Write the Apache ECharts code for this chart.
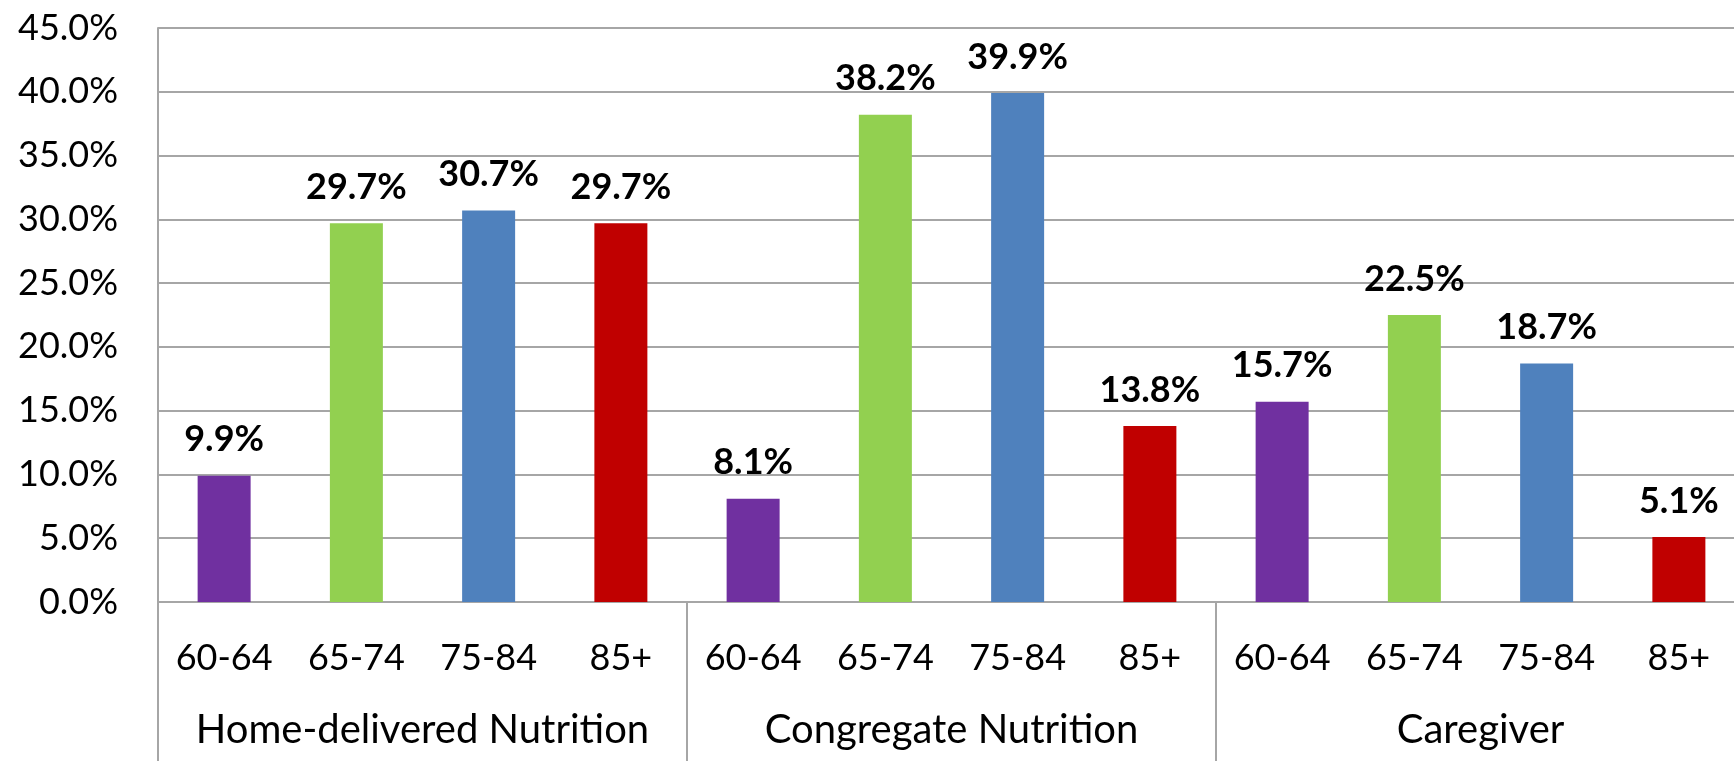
<!DOCTYPE html>
<html>
<head>
<meta charset="utf-8">
<script src="https://cdn.jsdelivr.net/npm/echarts@6/dist/echarts.min.js"></script>
<style>
  html, body { margin: 0; padding: 0; background: #ffffff; overflow: hidden; }
  /* the plot area runs slightly past the right edge of the page */
  #chart { width: 1745px; height: 761px; }
</style>
</head>
<body>
<div id="chart"></div>
<script>
// Age bands shown under every bar, repeated for each program
const ageBands = ['60-64', '65-74', '75-84', '85+'];
// Program groups along the lower axis row
const programs = ['Home-delivered Nutrition', 'Congregate Nutrition', 'Caregiver'];
// Share of clients (%) by age band, one list per program
const homeDelivered = [9.9, 29.7, 30.7, 29.7];
const congregate = [8.1, 38.2, 39.9, 13.8];
const caregiver = [15.7, 22.5, 18.7, 5.1];
// Value axis tick values (%)
const yTicks = [0, 5, 10, 15, 20, 25, 30, 35, 40, 45];

const bandColors = ['#7030A0', '#92D050', '#4F81BD', '#C00000'];
const FONT = 'Lato, "Open Sans", sans-serif';
const LINE = '#A6A6A6';

const groupValues = [homeDelivered, congregate, caregiver];
const categories = [];
const barData = [];
groupValues.forEach(function (vals) {
  vals.forEach(function (v, i) {
    categories.push(ageBands[i]);
    barData.push({ value: v, itemStyle: { color: bandColors[i] } });
  });
});

const chart = echarts.init(document.getElementById('chart'), null, { renderer: 'canvas' });
chart.setOption({
  animation: false,
  backgroundColor: '#ffffff',
  grid: { left: 158, right: 0, top: 28, bottom: 159, containLabel: false },
  xAxis: [
    {
      type: 'category',
      data: categories,
      position: 'bottom',
      axisLine: { show: true, lineStyle: { color: LINE, width: 2 } },
      axisTick: { show: false },
      axisLabel: {
        interval: 0,
        margin: 38,
        fontFamily: FONT,
        fontSize: 36,
        color: '#000000'
      },
      splitLine: { show: false }
    },
    {
      type: 'category',
      data: programs,
      position: 'bottom',
      offset: 0,
      axisLine: { show: false },
      axisTick: {
        show: true,
        length: 160,
        lineStyle: { color: LINE, width: 2 }
      },
      axisLabel: {
        interval: 0,
        margin: 108,
        fontFamily: FONT,
        fontSize: 40,
        color: '#000000'
      },
      splitLine: { show: false }
    }
  ],
  yAxis: {
    type: 'value',
    min: yTicks[0],
    max: yTicks[yTicks.length - 1],
    interval: yTicks[1] - yTicks[0],
    axisLine: { show: true, lineStyle: { color: LINE, width: 2 } },
    axisTick: { show: false },
    axisLabel: {
      margin: 40,
      fontFamily: FONT,
      fontSize: 36,
      color: '#000000',
      formatter: function (v) { return v.toFixed(1) + '%'; }
    },
    splitLine: { show: true, lineStyle: { color: LINE, width: 2 } }
  },
  series: [
    {
      type: 'bar',
      xAxisIndex: 0,
      data: barData,
      barWidth: 53,
      label: {
        show: true,
        position: 'top',
        distance: 18,
        fontFamily: FONT,
        fontSize: 36,
        fontWeight: 'bold',
        color: '#000000',
        formatter: function (p) { return p.value.toFixed(1) + '%'; }
      }
    }
  ]
});
</script>
</body>
</html>
